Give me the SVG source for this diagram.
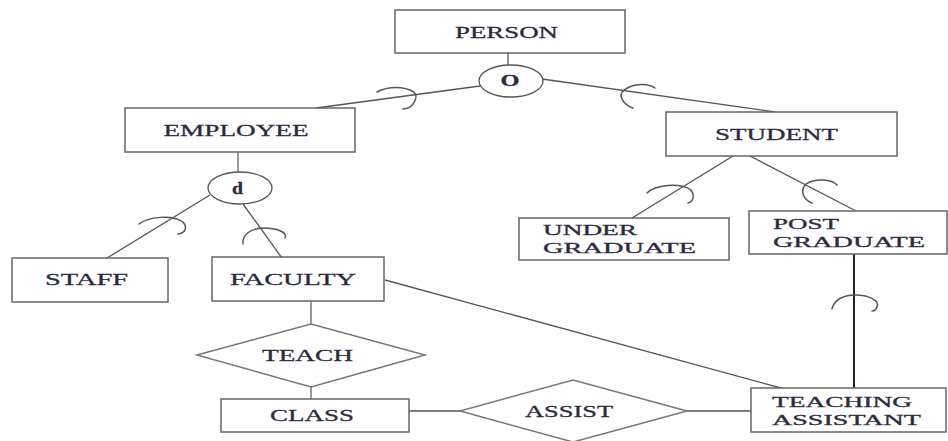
<svg xmlns="http://www.w3.org/2000/svg" width="948" height="441" viewBox="0 0 948 441">
<style>
.box{fill:#fff;stroke:#666;stroke-width:1.5}
.dia{fill:#fff;stroke:#777;stroke-width:1.5}
.circ{fill:#fff;stroke:#555;stroke-width:1.3}
.ln{fill:none;stroke:#555;stroke-width:1.3}
.lt{fill:none;stroke:#999;stroke-width:2}
.arc{fill:none;stroke:#555;stroke-width:1.5;stroke-linecap:round}
.t{font-family:"Liberation Serif","Times New Roman",serif;font-size:17px;fill:#2b2b3d;stroke:#2b2b3d;stroke-width:0.3}
.s{font-size:15px}
.b{font-weight:bold}
</style>
<rect width="948" height="441" fill="#fff"/>
<g id="connectors">
<line class="ln" x1="508" y1="53" x2="508" y2="65"/>
<line class="ln" x1="480" y1="86" x2="316" y2="108"/>
<line class="ln" x1="542" y1="79" x2="775" y2="112"/>
<line class="lt" x1="238" y1="152" x2="238" y2="172"/>
<line class="ln" x1="210" y1="195" x2="107" y2="258"/>
<line class="ln" x1="243" y1="204" x2="282" y2="258"/>
<line class="ln" x1="733" y1="156" x2="632" y2="218"/>
<line class="ln" x1="750" y1="156" x2="856" y2="211"/>
<line class="ln" x1="385" y1="280" x2="781" y2="388"/>
<line class="lt" x1="311" y1="301" x2="311" y2="324"/>
<line class="lt" x1="311" y1="387" x2="311" y2="399"/>
<line class="ln" x1="409" y1="411" x2="460" y2="411"/>
<line class="ln" x1="687" y1="411" x2="751" y2="411"/>
<line x1="854" y1="254" x2="854" y2="388" stroke="#222" stroke-width="2"/>
<path class="arc" d="M377,92 C388,86 404,86 414,92 C419,97 413,109 403,109"/>
<path class="arc" d="M655,88 C648,83 634,83 624,90 C617,96 624,105 633,108"/>
<path class="arc" d="M139,224 C148,217 172,214 183,222 C188,228 185,233 178,234"/>
<path class="arc" d="M243,244 C242,234 252,228 264,228 C276,228 288,232 285,238"/>
<path class="arc" d="M647,193 C655,185 680,182 691,190 C695,196 693,202 688,203"/>
<path class="arc" d="M837,185 C832,179 815,178 806,184 C799,191 804,200 812,203"/>
<path class="arc" d="M832,309 C834,299 845,295 855,295 C868,295 880,300 877,307 C876,310 874,311 872,311"/>
</g>
<g id="person">
<rect class="box" x="395" y="10" width="230" height="43"/>
<text class="t" x="506.5" y="38" text-anchor="middle" textLength="103" lengthAdjust="spacingAndGlyphs">PERSON</text>
</g>
<g id="overlap">
<ellipse class="circ" cx="511" cy="81" rx="32" ry="16"/>
<text class="t b" x="510" y="86" text-anchor="middle" textLength="19" lengthAdjust="spacingAndGlyphs">O</text>
</g>
<g id="employee">
<rect class="box" x="125" y="108" width="230" height="44"/>
<text class="t" x="236" y="136" text-anchor="middle" textLength="145" lengthAdjust="spacingAndGlyphs">EMPLOYEE</text>
</g>
<g id="disjoint">
<ellipse class="circ" cx="240" cy="188" rx="32" ry="16"/>
<text class="t b" x="237.5" y="194" text-anchor="middle" textLength="11" lengthAdjust="spacingAndGlyphs">d</text>
</g>
<g id="student">
<rect class="box" x="666" y="112" width="231" height="44"/>
<text class="t" x="776.5" y="140" text-anchor="middle" textLength="123" lengthAdjust="spacingAndGlyphs">STUDENT</text>
</g>
<g id="staff">
<rect class="box" x="12" y="258" width="156" height="44"/>
<text class="t" x="86.5" y="285" text-anchor="middle" textLength="83" lengthAdjust="spacingAndGlyphs">STAFF</text>
</g>
<g id="faculty">
<rect class="box" x="212" y="257" width="172" height="44"/>
<text class="t" x="293" y="285" text-anchor="middle" textLength="126" lengthAdjust="spacingAndGlyphs">FACULTY</text>
</g>
<g id="undergraduate">
<rect class="box" x="519" y="218" width="210" height="42"/>
<text class="t s" x="543" y="235" textLength="94" lengthAdjust="spacingAndGlyphs">UNDER</text>
<text class="t s" x="543" y="253" textLength="153" lengthAdjust="spacingAndGlyphs">GRADUATE</text>
</g>
<g id="postgraduate">
<rect class="box" x="749" y="211" width="198" height="43"/>
<text class="t s" x="773" y="229" textLength="66" lengthAdjust="spacingAndGlyphs">POST</text>
<text class="t s" x="773" y="247" textLength="152" lengthAdjust="spacingAndGlyphs">GRADUATE</text>
</g>
<g id="teach">
<polygon class="dia" points="197,355 311,324 425,355 311,387"/>
<text class="t" x="307.5" y="361" text-anchor="middle" textLength="91" lengthAdjust="spacingAndGlyphs">TEACH</text>
</g>
<g id="class">
<rect class="box" x="221" y="399" width="188" height="33"/>
<text class="t" x="312" y="421" text-anchor="middle" textLength="84" lengthAdjust="spacingAndGlyphs">CLASS</text>
</g>
<g id="assist">
<polygon class="dia" points="460,411 573,380 687,411 573,442"/>
<text class="t" x="569" y="417" text-anchor="middle" textLength="88" lengthAdjust="spacingAndGlyphs">ASSIST</text>
</g>
<g id="teachingassistant">
<rect class="box" x="751" y="388" width="195" height="44"/>
<text class="t s" x="772" y="407" textLength="140" lengthAdjust="spacingAndGlyphs">TEACHING</text>
<text class="t s" x="772" y="425" textLength="149" lengthAdjust="spacingAndGlyphs">ASSISTANT</text>
</g>
</svg>
